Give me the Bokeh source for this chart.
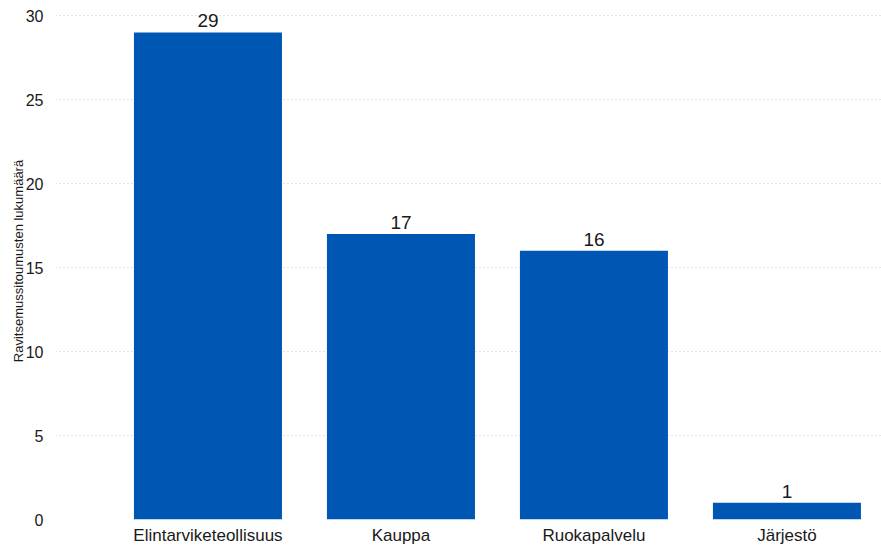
from bokeh.plotting import figure
from bokeh.models import ColumnDataSource, Range1d, FixedTicker, LabelSet
from bokeh.core.properties import value
from bokeh.embed import file_html
from bokeh.resources import INLINE

# Nutrition commitments per sector
categories = ["Elintarviketeollisuus", "Kauppa", "Ruokapalvelu", "Järjestö"]
counts = [29, 17, 16, 1]
y_ticks = [0, 5, 10, 15, 20, 25, 30]

FONT = "Liberation Sans"
BAR_COLOR = "#0057b3"
TEXT_COLOR = "#1a1a1a"

xs = [i + 0.5 for i in range(len(categories))]
source = ColumnDataSource(dict(
    x=xs,
    count=counts,
    label=[str(c) for c in counts],
))

p = figure(
    width=881, height=547,
    x_range=Range1d(-0.29, 3.99),
    y_range=Range1d(0, 30.78),
    output_backend="svg",
    toolbar_location=None,
    min_border_left=55, min_border_right=0,
    min_border_top=2, min_border_bottom=25,
)
p.outline_line_color = None
p.background_fill_color = "white"
p.border_fill_color = "white"

p.vbar(x="x", top="count", width=0.767, source=source,
       fill_color=BAR_COLOR, line_color=None)

labels = LabelSet(x="x", y="count", text="label", source=source,
                  text_align="center", text_baseline="bottom",
                  y_offset=5, text_font=value(FONT),
                  text_font_size=value("19px"),
                  text_color=value(TEXT_COLOR))
p.add_layout(labels)

# x axis: category names under bars
p.xaxis.ticker = FixedTicker(ticks=xs)
p.xaxis.major_label_overrides = {x: c for x, c in zip(xs, categories)}
p.xaxis.major_label_text_font = FONT
p.xaxis.major_label_text_font_size = "17px"
p.xaxis.major_label_text_color = TEXT_COLOR
p.xaxis.major_label_standoff = 0
p.xaxis.axis_line_color = None
p.xaxis.major_tick_line_color = None
p.xaxis.minor_tick_line_color = None
p.xgrid.grid_line_color = None

# y axis
p.yaxis.ticker = FixedTicker(ticks=y_ticks)
p.yaxis.axis_label = "Ravitsemussitoumusten lukumäärä"
p.yaxis.axis_label_text_font = FONT
p.yaxis.axis_label_text_font_size = "13px"
p.yaxis.axis_label_text_font_style = "normal"
p.yaxis.axis_label_text_color = TEXT_COLOR
p.yaxis.axis_label_standoff = -3
p.yaxis.major_label_text_font = FONT
p.yaxis.major_label_text_font_size = "16px"
p.yaxis.major_label_text_color = TEXT_COLOR
p.yaxis.major_label_standoff = 6
p.yaxis.axis_line_color = None
p.yaxis.major_tick_line_color = None
p.yaxis.minor_tick_line_color = None

p.ygrid.grid_line_color = "#c8c8c8"
p.ygrid.grid_line_dash = "1 3"
p.ygrid.grid_line_width = 1

open("out.html", "w").write(file_html(p, INLINE))
